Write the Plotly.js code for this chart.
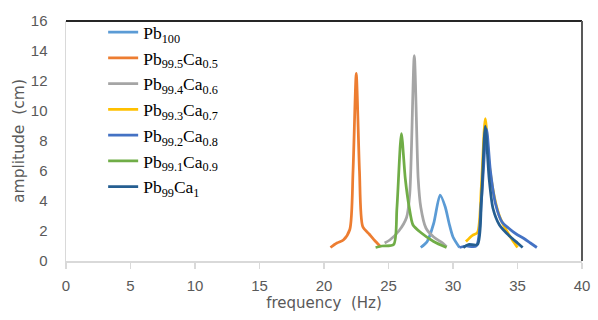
<!DOCTYPE html>
<html>
<head>
<meta charset="utf-8">
<script src="https://cdn.plot.ly/plotly-3.0.1.min.js"></script>
<style>html,body{margin:0;padding:0;background:#fff;}#chart{width:598px;height:320px;}</style>
</head>
<body>
<div id="chart"></div>
<script>
// Series names
const seriesNames = [
  "Pb<sub>100</sub>",
  "Pb<sub>99.5</sub>Ca<sub>0.5</sub>",
  "Pb<sub>99.4</sub>Ca<sub>0.6</sub>",
  "Pb<sub>99.3</sub>Ca<sub>0.7</sub>",
  "Pb<sub>99.2</sub>Ca<sub>0.8</sub>",
  "Pb<sub>99.1</sub>Ca<sub>0.9</sub>",
  "Pb<sub>99</sub>Ca<sub>1</sub>"
];
const seriesColors = ["#5B9BD5","#ED7D31","#A5A5A5","#FFC000","#4472C4","#70AD47","#255E91"];

// Frequency (Hz) and amplitude (cm) per series
const pb100Freq = [27.5, 28.0, 28.5, 29.0, 29.4, 29.7, 30.0, 30.5];
const pb100Amp  = [0.9, 1.3, 2.5, 4.4, 3.6, 2.5, 1.6, 0.9];

const ca05Freq = [20.5, 21.0, 21.5, 22.0, 22.25, 22.5, 22.75, 23.0, 23.5, 24.0, 24.4];
const ca05Amp  = [0.9, 1.2, 1.4, 2.1, 6.0, 12.5, 6.0, 2.3, 1.8, 1.3, 0.95];

const ca06Freq = [24.7, 25.1, 25.8, 26.4, 26.65, 27.0, 27.3, 27.5, 27.9, 28.5, 29.2, 29.5];
const ca06Amp  = [1.2, 1.4, 2.0, 2.9, 4.5, 13.7, 5.5, 3.6, 2.2, 1.6, 1.2, 0.95];

const ca07Freq = [31.0, 31.5, 31.9, 32.2, 32.5, 32.8, 33.2, 33.6, 34.1, 34.6, 35.0];
const ca07Amp  = [1.3, 1.7, 1.9, 5.0, 9.5, 6.5, 4.3, 3.0, 2.1, 1.4, 0.9];

const ca08Freq = [30.5, 31.0, 31.8, 32.2, 32.6, 32.9, 33.3, 33.8, 34.3, 34.9, 35.5, 36.0, 36.5];
const ca08Amp  = [0.9, 1.0, 1.0, 4.0, 8.8, 6.0, 3.8, 2.6, 2.2, 1.8, 1.5, 1.2, 0.9];

const ca09Freq = [24.0, 24.5, 25.4, 25.65, 26.0, 26.3, 26.6, 26.9, 27.5, 28.5, 29.5];
const ca09Amp  = [0.9, 1.0, 1.1, 3.5, 8.5, 5.5, 3.6, 2.4, 1.9, 1.3, 0.9];

const ca1Freq = [30.8, 31.2, 31.9, 32.2, 32.5, 32.8, 33.1, 33.6, 34.1, 34.6, 35.0, 35.4];
const ca1Amp  = [0.9, 1.1, 1.1, 4.0, 9.0, 5.5, 3.5, 2.4, 1.9, 1.5, 1.2, 0.9];

const xTicks = [0, 5, 10, 15, 20, 25, 30, 35, 40];
const yTicks = [0, 2, 4, 6, 8, 10, 12, 14, 16];

const allFreq = [pb100Freq, ca05Freq, ca06Freq, ca07Freq, ca08Freq, ca09Freq, ca1Freq];
const allAmp  = [pb100Amp, ca05Amp, ca06Amp, ca07Amp, ca08Amp, ca09Amp, ca1Amp];

const traces = seriesNames.map((n, i) => ({
  type: "scatter",
  mode: "lines",
  name: n,
  x: allFreq[i],
  y: allAmp[i],
  line: {color: seriesColors[i], width: 2.75, shape: "spline", smoothing: 0.7}
}));

const tickFont = {family: "Liberation Sans Narrow, Arial Narrow, Liberation Sans, sans-serif", size: 15, color: "#595959"};

const layout = {
  width: 598, height: 320,
  margin: {l: 66, r: 16, t: 21, b: 59},
  paper_bgcolor: "#ffffff",
  plot_bgcolor: "#ffffff",
  showlegend: true,
  legend: {
    x: 0.072, y: 1.028, xanchor: "left", yanchor: "top",
    bgcolor: "rgba(0,0,0,0)",
    font: {family: "Liberation Serif, Times New Roman, serif", size: 17.5, color: "#000000"},
    itemwidth: 30,
    maxheight: 600
  },
  xaxis: {
    range: [0, 40], tickvals: xTicks, ticktext: xTicks.map(String),
    showgrid: false, zeroline: false,
    showline: true, linecolor: "#d9d9d9", linewidth: 1.5,
    ticks: "outside", ticklen: 6, tickcolor: "#d9d9d9", tickwidth: 1.5,
    ticklabelstandoff: 4,
    tickfont: tickFont,
    title: {text: "frequency  (Hz)", font: {family: "DejaVu Sans, sans-serif", size: 15, color: "#595959"}, standoff: 4}
  },
  yaxis: {
    range: [0, 16], tickvals: yTicks, ticktext: yTicks.map(String),
    showgrid: false, zeroline: false,
    showline: true, linecolor: "#d9d9d9", linewidth: 1.5,
    ticks: "", ticklabelstandoff: 14,
    tickfont: tickFont,
    title: {text: "amplitude  (cm)", font: {family: "DejaVu Sans, sans-serif", size: 15.5, color: "#595959"}, standoff: 2}
  },
  shapes: [
    {type: "line", xref: "paper", yref: "paper", x0: 0, x1: 1, y0: 1, y1: 1, line: {color: "#262626", width: 2}},
    {type: "line", xref: "paper", yref: "paper", x0: 1, x1: 1, y0: 0, y1: 1, line: {color: "#595959", width: 2}}
  ]
};

Plotly.newPlot("chart", traces, layout, {displayModeBar: false, staticPlot: true});
</script>
</body>
</html>
